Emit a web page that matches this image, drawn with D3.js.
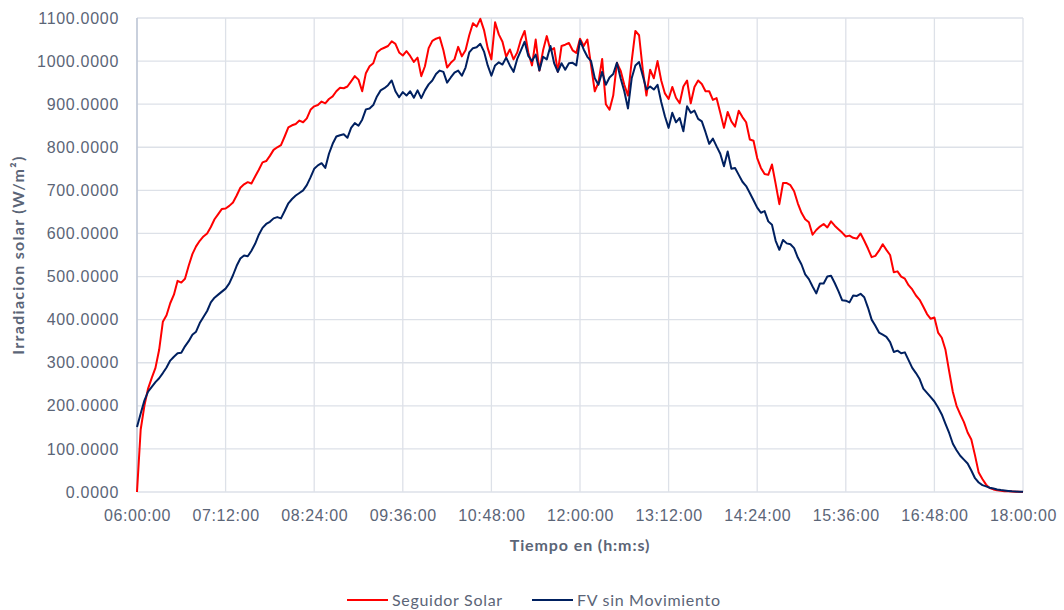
<!DOCTYPE html>
<html>
<head>
<meta charset="utf-8">
<script src="https://cdn.jsdelivr.net/npm/d3@7"></script>
<style>
  body { margin: 0; background: #fff; }
  svg { font-family: Lato, "Open Sans", sans-serif; }
</style>
</head>
<body>
<div id="chart"></div>
<script>
// Time axis labels (every 72 minutes)
let timeTicks = ["06:00:00", "07:12:00", "08:24:00", "09:36:00", "10:48:00", "12:00:00",
    "13:12:00", "14:24:00", "15:36:00", "16:48:00", "18:00:00"];

// Irradiance ticks
let yTicks = [0, 100, 200, 300, 400, 500, 600, 700, 800, 900, 1000, 1100];

// Samples are read every 3 minutes starting at 06:00:00
let startTime = "06:00:00";
let stepMinutes = 3;

// Seguidor Solar (W/m2)
let seguidorSolar = [
    0, 145, 200, 240, 265, 288, 330, 395, 410, 438,
    458, 490, 486, 495, 525, 552, 570, 583, 593, 600,
    615, 633, 645, 657, 658, 664, 672, 688, 706, 714,
    719, 716, 732, 748, 765, 768, 780, 794, 800, 805,
    825, 846, 851, 854, 862, 858, 867, 887, 895, 898,
    906, 902, 912, 918, 930, 938, 937, 941, 953, 965,
    957, 930, 972, 988, 995, 1020, 1027, 1031, 1035, 1046,
    1040, 1020, 1013, 1023, 1012, 998, 1008, 965, 988, 1030,
    1047, 1052, 1055, 1025, 985, 996, 1004, 1033, 1011, 1025,
    1060, 1088, 1080, 1098, 1072, 1030, 1004, 1090, 1062, 1045,
    1010, 1027, 1004, 1020, 1050, 1070, 1020, 990, 1050, 978,
    1025, 1058, 1025, 1030, 975, 1035, 1038, 1042, 1025, 1019,
    1052, 1035, 1050, 990, 930, 950, 1005, 900, 887, 920,
    996, 978, 945, 920, 1000, 1070, 1060, 980, 920, 980,
    960, 1000, 955, 925, 912, 940, 915, 902, 941, 955,
    902, 940, 955, 947, 930, 930, 910, 914, 880, 845,
    882, 860, 848, 885, 870, 858, 818, 815, 775, 752,
    738, 736, 760, 715, 668, 717, 717, 712, 698, 670,
    648, 633, 626, 597, 608, 616, 622, 614, 628, 618,
    610, 602, 593, 595, 590, 588, 600, 583, 565, 545,
    548, 560, 575, 562, 550, 510, 512, 500, 495, 480,
    470, 456, 446, 430, 413, 402, 405, 370, 358, 330,
    280, 232, 200, 180, 162, 138, 122, 85, 45, 30,
    17, 9, 6, 4, 3, 2, 1.5, 1, 0.6, 0.3,
    0
];

// FV sin Movimiento (W/m2)
let fvSinMovimiento = [
    151, 182, 212, 233, 244, 255, 264, 276, 289, 305,
    314, 322, 323, 338, 350, 365, 372, 392, 406, 420,
    440, 451, 458, 465, 472, 484, 503, 525, 542, 549,
    547, 560, 576, 597, 613, 622, 627, 635, 638, 635,
    652, 670, 680, 688, 694, 700, 712, 730, 750, 758,
    763, 752, 785, 808, 825, 828, 830, 822, 845, 856,
    850, 864, 888, 890, 898, 918, 932, 937, 944, 955,
    930, 916, 928, 920, 930, 915, 932, 914, 932, 946,
    955, 970, 978, 975, 950, 962, 973, 978, 966, 985,
    1020, 1030, 1032, 1040, 1022, 990, 966, 990, 997, 992,
    1008, 990, 975, 1005, 1025, 1045, 1012, 1000, 1015, 978,
    1010, 1004, 1035, 995, 975, 995, 980, 995, 996, 990,
    1048, 1027, 1010, 1000, 960, 945, 975, 945, 962, 970,
    996, 960, 930, 890, 960, 990, 998, 966, 934, 941,
    934, 945, 905, 872, 845, 880, 858, 868, 837, 895,
    880, 885, 866, 860, 835, 808, 820, 802, 785, 756,
    790, 750, 752, 736, 720, 710, 694, 677, 660, 648,
    652, 628, 620, 583, 562, 585, 577, 575, 566, 544,
    528, 505, 494, 477, 461, 484, 484, 500, 502, 485,
    466, 445, 444, 440, 456, 455, 460, 452, 428, 400,
    386, 370, 365, 360, 348, 325, 328, 322, 324, 306,
    288, 276, 262, 240, 230, 220, 210, 196, 180, 158,
    137, 112, 97, 84, 75, 66, 50, 32, 22, 16,
    13, 10, 8, 6, 4.5, 3.5, 2.5, 1.5, 1, 0.6,
    0.4
];

let seriesNames = ["Seguidor Solar", "FV sin Movimiento"];
let seriesColors = ["#ff0000", "#002060"];

//*************************************************************************************
// SETUP

var width = 1064;
var height = 610;
var margin = { top: 18, right: 41, bottom: 118, left: 137 };

var svg = d3.select("#chart")
    .append("svg")
    .attr("width", width)
    .attr("height", height);

var parseTime = d3.timeParse("%H:%M:%S");
var t0 = parseTime(startTime);
var tickDates = timeTicks.map(parseTime);

var x = d3.scaleTime()
    .domain([tickDates[0], tickDates[tickDates.length - 1]])
    .range([margin.left, width - margin.right]);

var y = d3.scaleLinear()
    .domain([0, 1100])
    .range([height - margin.bottom, margin.top]);

var labelColor = "#5b6577";
var gridColor = "#dde1e8";

//*************************************************************************************
// GRID

svg.append("g")
    .selectAll("line")
    .data(yTicks)
    .enter()
    .append("line")
    .attr("x1", margin.left)
    .attr("x2", width - margin.right)
    .attr("y1", d => y(d))
    .attr("y2", d => y(d))
    .attr("stroke", gridColor)
    .attr("stroke-width", 1.3);

svg.append("g")
    .selectAll("line")
    .data(tickDates)
    .enter()
    .append("line")
    .attr("x1", d => x(d))
    .attr("x2", d => x(d))
    .attr("y1", margin.top)
    .attr("y2", height - margin.bottom)
    .attr("stroke", gridColor)
    .attr("stroke-width", 1.3);

// left axis line a little darker
svg.append("line")
    .attr("x1", margin.left)
    .attr("x2", margin.left)
    .attr("y1", margin.top)
    .attr("y2", height - margin.bottom)
    .attr("stroke", "#b8c2d2")
    .attr("stroke-width", 1.3);

//*************************************************************************************
// AXES

var yAxis = svg.append("g")
    .attr("transform", "translate(" + margin.left + ",0)")
    .call(d3.axisLeft(y).tickValues(yTicks).tickFormat(d3.format(".4f")).tickSize(0).tickPadding(18));
yAxis.select(".domain").remove();
yAxis.selectAll("text")
    .attr("fill", labelColor)
    .style("font-size", "16px")
    .style("letter-spacing", "0.7px");

var xAxis = svg.append("g")
    .attr("transform", "translate(0," + (height - margin.bottom) + ")")
    .call(d3.axisBottom(x).tickValues(tickDates).tickFormat(d3.timeFormat("%H:%M:%S")).tickSize(0).tickPadding(18));
xAxis.select(".domain").remove();
xAxis.selectAll("text")
    .attr("fill", labelColor)
    .style("font-size", "16px")
    .style("letter-spacing", "0.6px");

// Axis titles
svg.append("text")
    .attr("x", (margin.left + width - margin.right) / 2)
    .attr("y", 551)
    .attr("text-anchor", "middle")
    .attr("fill", labelColor)
    .style("font-size", "16px")
    .style("font-weight", "bold")
    .style("letter-spacing", "0.9px")
    .text("Tiempo en (h:m:s)");

svg.append("text")
    .attr("transform", "translate(24," + ((margin.top + height - margin.bottom) / 2) + ") rotate(-90)")
    .attr("text-anchor", "middle")
    .attr("fill", labelColor)
    .style("font-size", "16px")
    .style("font-weight", "bold")
    .style("letter-spacing", "1.3px")
    .text("Irradiacion solar (W/m²)");

//*************************************************************************************
// LINES

var line = d3.line()
    .x((d, i) => x(d3.timeMinute.offset(t0, i * stepMinutes)))
    .y(d => y(d));

[seguidorSolar, fvSinMovimiento].forEach(function (values, k) {
    svg.append("path")
        .datum(values)
        .attr("d", line)
        .attr("fill", "none")
        .attr("stroke", seriesColors[k])
        .attr("stroke-width", 2)
        .attr("stroke-linejoin", "round");
});

//*************************************************************************************
// LEGEND

var legendX = [347, 532];
var legend = svg.append("g");

seriesNames.forEach(function (name, k) {
    legend.append("line")
        .attr("x1", legendX[k])
        .attr("x2", legendX[k] + 41)
        .attr("y1", 600)
        .attr("y2", 600)
        .attr("stroke", seriesColors[k])
        .attr("stroke-width", 2);
    legend.append("text")
        .attr("x", legendX[k] + 45)
        .attr("y", 600)
        .attr("dy", "0.35em")
        .attr("fill", labelColor)
        .style("font-size", "16px")
        .style("letter-spacing", "0.7px")
        .text(name);
});
</script>
</body>
</html>
